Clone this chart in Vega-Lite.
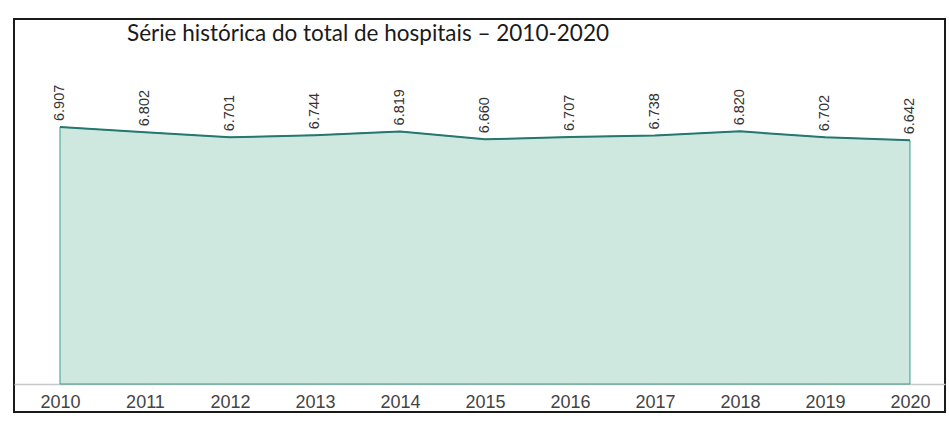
{
  "$schema": "https://vega.github.io/schema/vega-lite/v6.json",
  "autosize": {"type": "none"},
  "padding": {"left": 14, "top": 19, "right": 4, "bottom": 9},
  "width": 931,
  "height": 393,
  "title": {
    "text": "Série histórica do total de hospitais – 2010-2020",
    "anchor": "start",
    "frame": "group",
    "dx": 113,
    "offset": -26,
    "font": "Lato",
    "fontSize": 22.5,
    "fontWeight": "normal",
    "color": "#1a1a1a"
  },
  "config": {
    "locale": {"number": {"decimal": ",", "thousands": ".", "grouping": [3], "currency": ["R$", ""]}},
    "view": {"stroke": "#1a1a1a", "strokeWidth": 2}
  },
  "data": {
    "values": [
      {"ano": 2010, "total": 6907},
      {"ano": 2011, "total": 6802},
      {"ano": 2012, "total": 6701},
      {"ano": 2013, "total": 6744},
      {"ano": 2014, "total": 6819},
      {"ano": 2015, "total": 6660},
      {"ano": 2016, "total": 6707},
      {"ano": 2017, "total": 6738},
      {"ano": 2018, "total": 6820},
      {"ano": 2019, "total": 6702},
      {"ano": 2020, "total": 6642}
    ]
  },
  "encoding": {
    "x": {
      "field": "ano",
      "type": "quantitative",
      "scale": {"domain": [2009.459, 2020.412], "nice": false, "zero": false},
      "axis": {
        "values": [2010, 2011, 2012, 2013, 2014, 2015, 2016, 2017, 2018, 2019, 2020],
        "format": "d",
        "title": null,
        "grid": false,
        "ticks": false,
        "offset": -28,
        "domainColor": "#c8c8c8",
        "domainWidth": 1.5,
        "labelFont": "Liberation Sans",
        "labelFontSize": 18,
        "labelColor": "#444444",
        "labelPadding": 9
      }
    },
    "y": {
      "field": "total",
      "type": "quantitative",
      "scale": {"domain": [1207, 9067], "nice": false, "zero": false},
      "axis": null
    }
  },
  "layer": [
    {
      "mark": {"type": "area", "color": "#cfe8df", "stroke": "#3f9a8a", "strokeWidth": 1, "opacity": 1},
      "encoding": {"y2": {"datum": 1767}}
    },
    {
      "mark": {"type": "line", "color": "#25786f", "strokeWidth": 2}
    },
    {
      "mark": {
        "type": "text",
        "angle": -90,
        "align": "left",
        "baseline": "middle",
        "dx": 6,
        "font": "Liberation Sans",
        "fontSize": 14.5,
        "color": "#333333"
      },
      "encoding": {"text": {"field": "total", "type": "quantitative", "format": ",d"}}
    }
  ]
}
